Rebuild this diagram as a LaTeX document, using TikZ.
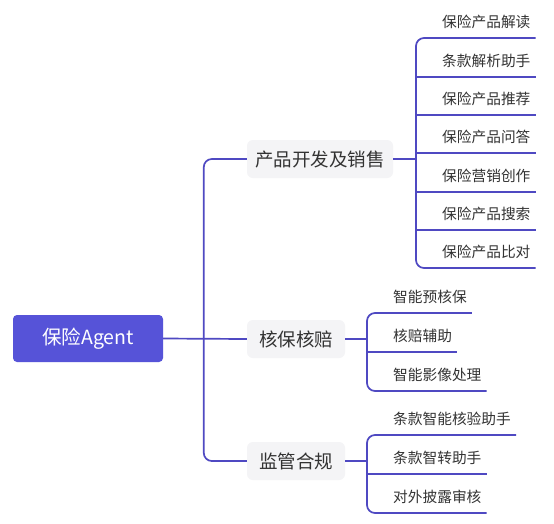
\documentclass[tikz,border=0pt]{standalone}
\usepackage{fontspec}
\setmainfont{Noto Sans CJK SC}
\usetikzlibrary{calc}
\definecolor{linec}{HTML}{4F49C2}
\definecolor{rootc}{HTML}{5653D8}
\definecolor{boxc}{HTML}{F4F4F6}
\definecolor{txt}{HTML}{333333}
\begin{document}
\begin{tikzpicture}[x=1pt,y=-1pt,
  conn/.style={draw=linec,line width=1.7pt},
  rootbox/.style={fill=rootc,rounded corners=4pt,text=white,minimum width=150pt,minimum height=47pt,inner sep=0pt,font=\fontsize{19.5}{22}\selectfont},
  topic/.style={fill=boxc,rounded corners=6pt,text=txt,minimum height=38pt,inner sep=0pt,font=\fontsize{18.5}{22}\selectfont},
  leaf/.style={anchor=south west,inner xsep=0pt,inner ysep=0pt,minimum height=32pt,text=txt,font=\fontsize{14.7}{17}\selectfont}]
\useasboundingbox[fill=white] (0,0) rectangle (554,523);

% root and topics
\node[rootbox] (root) at (88,338.5) {保险Agent};
\node[topic,minimum width=146pt] (A) at (320,159) {产品开发及销售};
\node[topic,minimum width=98pt] (B) at (296,339) {核保核赔};
\node[topic,minimum width=98pt] (C) at (296,461) {监管合规};

\draw[conn] (root.east) -- (B.west);
\draw[conn,rounded corners=8pt] (A.west) -- ++(-43,0) |- (C.west);

% group A leaves
\node[leaf] (a1) at (442,38) {保险产品解读};
\node[leaf] (a2) at (442,77) {条款解析助手};
\node[leaf] (a3) at (442,115) {保险产品推荐};
\node[leaf] (a4) at (442,153) {保险产品问答};
\node[leaf] (a5) at (442,192) {保险营销创作};
\node[leaf] (a6) at (442,230) {保险产品搜索};
\node[leaf] (a7) at (442,268) {保险产品比对};

% group B leaves
\node[leaf] (b1) at (393,313) {智能预核保};
\node[leaf] (b2) at (393,352) {核赔辅助};
\node[leaf] (b3) at (393,391) {智能影像处理};

% group C leaves
\node[leaf] (c1) at (393,435) {条款智能核验助手};
\node[leaf] (c2) at (393,474) {条款智转助手};
\node[leaf] (c3) at (393,513) {对外披露审核};

% brackets
\coordinate (ga) at ($(a1.south west)+(-26,0)$);
\coordinate (gb) at ($(b1.south west)+(-26,0)$);
\coordinate (gc) at ($(c1.south west)+(-26,0)$);

\draw[conn,rounded corners=8pt] ($(a1.south east)+(5,0)$) -- ($(a1.south west)+(-26,0)$) -- ($(a7.south west)+(-26,0)$) -- ($(a7.south east)+(5,0)$);
\foreach \n in {a2,a3,a4,a5,a6}{
  \draw[conn] ($(\n.south west)+(-26,0)$) -- ($(\n.south east)+(5,0)$);
}
\draw[conn] (A.east) -- (A.east -| ga);

\draw[conn,rounded corners=8pt] ($(b1.south east)+(5,0)$) -- ($(b1.south west)+(-26,0)$) -- ($(b3.south west)+(-26,0)$) -- ($(b3.south east)+(5,0)$);
\draw[conn] ($(b2.south west)+(-26,0)$) -- ($(b2.south east)+(5,0)$);
\draw[conn] (B.east) -- (B.east -| gb);

\draw[conn,rounded corners=8pt] ($(c1.south east)+(5,0)$) -- ($(c1.south west)+(-26,0)$) -- ($(c3.south west)+(-26,0)$) -- ($(c3.south east)+(5,0)$);
\draw[conn] ($(c2.south west)+(-26,0)$) -- ($(c2.south east)+(5,0)$);
\draw[conn] (C.east) -- (C.east -| gc);
\end{tikzpicture}
\end{document}
